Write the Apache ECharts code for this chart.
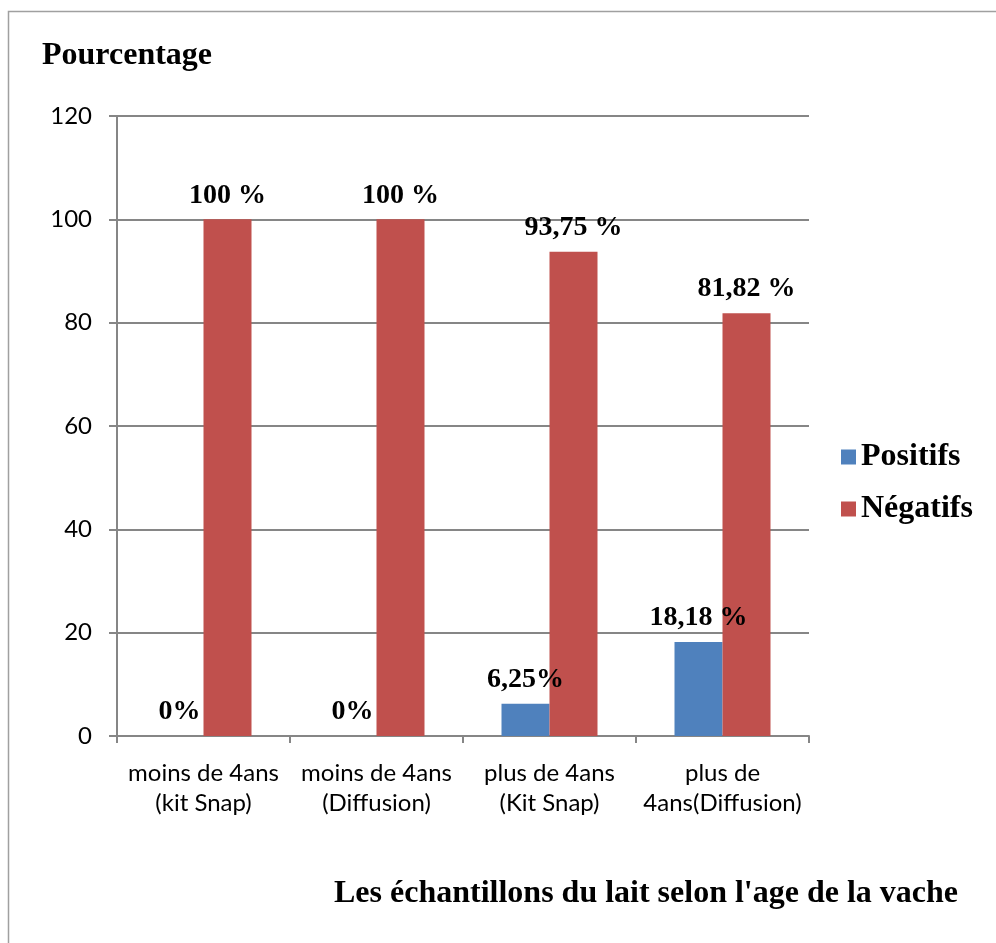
<!DOCTYPE html>
<html>
<head>
<meta charset="utf-8">
<script src="https://cdn.jsdelivr.net/npm/echarts@6/dist/echarts.min.js"></script>
<style>
  html, body { margin: 0; padding: 0; background: #fff; }
  #main { width: 996px; height: 943px; }
</style>
</head>
<body>
<div id="main"></div>
<script>
// 数据
const categories = [
  'moins de 4ans\n(kit Snap)',
  'moins de 4ans\n(Diffusion)',
  'plus de 4ans\n(Kit Snap)',
  'plus de\n4ans(Diffusion)'
]
const positifs = [0, 0, 6.25, 18.18]
const negatifs = [100, 100, 93.75, 81.82]
const positifsLabels = ['0%', '0%', '6,25%', '18,18 %']
const negatifsLabels = ['100 %', '100 %', '93,75 %', '81,82 %']
const yTicks = [0, 20, 40, 60, 80, 100, 120]

const serif = '"Liberation Serif", "Times New Roman", serif'
const sans = 'Lato, "Open Sans", sans-serif'
const grey = '#868686'

const chart = echarts.init(document.getElementById('main'))

const labelStyle = {
  show: true,
  position: 'top',
  distance: 10,
  fontFamily: serif,
  fontWeight: 'bold',
  fontSize: 28,
  color: '#000'
}

chart.setOption({
  animation: false,
  backgroundColor: '#fff',
  graphic: [{
    type: 'rect',
    shape: { x: 8.5, y: 11.5, width: 1200, height: 1200 },
    style: { fill: 'none', stroke: '#a0a0a0', lineWidth: 1.5 },
    silent: true
  }],
  title: [
    {
      text: 'Pourcentage',
      left: 37, top: 35,
      textStyle: { fontFamily: serif, fontWeight: 'bold', fontSize: 32, color: '#000' }
    },
    {
      text: "Les échantillons du lait selon l'age de la vache",
      left: 329, top: 873,
      textStyle: { fontFamily: serif, fontWeight: 'bold', fontSize: 32, color: '#000' }
    }
  ],
  legend: {
    orient: 'vertical',
    left: 836, top: 436,
    itemWidth: 15, itemHeight: 15,
    itemGap: 20,
    icon: 'rect',
    textStyle: { fontFamily: serif, fontWeight: 'bold', fontSize: 32, color: '#000' },
    data: ['Positifs', 'Négatifs']
  },
  grid: { left: 117, right: 187, top: 116, bottom: 207, containLabel: false },
  xAxis: {
    type: 'category',
    data: categories,
    axisLine: { lineStyle: { color: grey, width: 2 } },
    axisTick: { show: true, length: 7, alignWithLabel: false, lineStyle: { color: grey, width: 2 } },
    axisLabel: {
      interval: 0,
      margin: 22,
      fontFamily: sans,
      fontSize: 24,
      lineHeight: 30,
      color: '#000'
    }
  },
  yAxis: {
    type: 'value',
    min: 0, max: 120, interval: 20,
    axisLine: { show: true, lineStyle: { color: grey, width: 2 } },
    axisTick: { show: true, length: 8, lineStyle: { color: grey, width: 2 } },
    axisLabel: {
      margin: 25,
      fontFamily: sans,
      fontSize: 24,
      color: '#000',
      formatter: v => yTicks.includes(v) ? String(v) : ''
    },
    splitLine: { lineStyle: { color: grey, width: 2 } }
  },
  series: [
    {
      name: 'Positifs',
      type: 'bar',
      data: positifs,
      barWidth: 48,
      barGap: '0%',
      itemStyle: { color: '#4F81BD' },
      label: { ...labelStyle, formatter: p => positifsLabels[p.dataIndex] }
    },
    {
      name: 'Négatifs',
      type: 'bar',
      data: negatifs,
      barWidth: 48,
      barGap: '0%',
      itemStyle: { color: '#C0504D' },
      label: { ...labelStyle, formatter: p => negatifsLabels[p.dataIndex] }
    }
  ]
})
</script>
</body>
</html>
